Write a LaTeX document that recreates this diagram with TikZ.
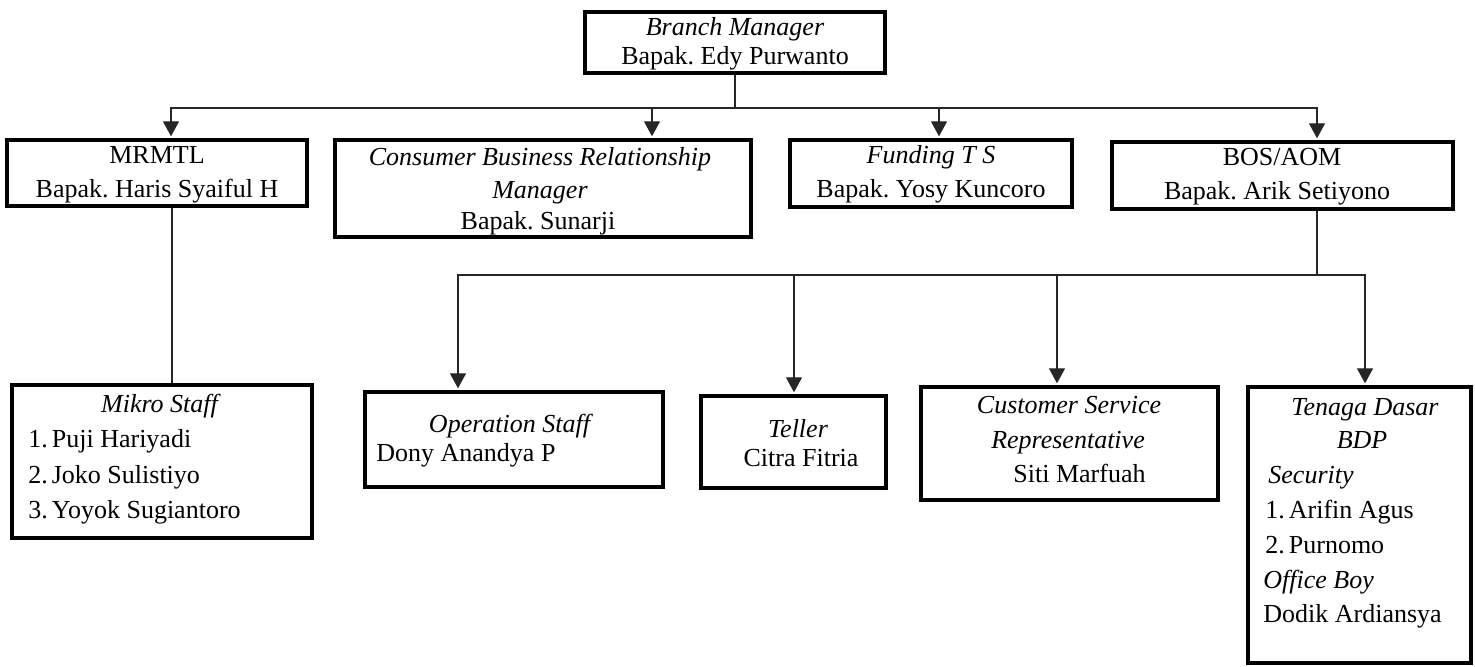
\documentclass[tikz,border=0pt]{standalone}
\usepackage{fontspec}
\setmainfont{Liberation Serif}
\usetikzlibrary{arrows.meta,fit}
\frenchspacing

\begin{document}
\begin{tikzpicture}[x=0.5pt,y=0.5pt,yscale=-1,xscale=1,
  orgbox/.style={draw,line width=1.9pt,inner sep=0pt,fit={#1}},
  txt/.style={anchor=base,inner sep=0pt,font=\fontsize{13}{16}\selectfont},
  txtl/.style={txt,anchor=base west},
  link/.style={line width=0.6pt,draw=black!85},
  arr/.style={link,-{Triangle[length=7.5pt,width=8pt]},shorten >=0.9pt}]
\useasboundingbox (0,0) rectangle (1475,666);

%Shape: Rectangle [Branch Manager]
\node [orgbox={(585,12) (885,73)}] (bm) {};
%Shape: Rectangle [MRMTL]
\node [orgbox={(7,140) (307,206)}] (mrmtl) {};
%Shape: Rectangle [Consumer Business Relationship Manager]
\node [orgbox={(335,140) (751,237)}] (cbrm) {};
%Shape: Rectangle [Funding T S]
\node [orgbox={(790,140) (1072,207)}] (fund) {};
%Shape: Rectangle [BOS/AOM]
\node [orgbox={(1112,142) (1453,209)}] (bos) {};
%Shape: Rectangle [Mikro Staff]
\node [orgbox={(12,385) (312,538)}] (mikro) {};
%Shape: Rectangle [Operation Staff]
\node [orgbox={(365,392) (663,487)}] (opr) {};
%Shape: Rectangle [Teller]
\node [orgbox={(701,396) (886,488)}] (teller) {};
%Shape: Rectangle [Customer Service Representative]
\node [orgbox={(921,387) (1218,500)}] (csr) {};
%Shape: Rectangle [Tenaga Dasar]
\node [orgbox={(1248,387) (1471,663)}] (tenaga) {};

% where the lines meet the boxes
\coordinate (topbus) at (735,108);
\coordinate (lowbus) at (1317,275);
\coordinate (mrmtlpin) at (171,0);
\coordinate (cbrmpin) at (652,0);
\coordinate (fundpin) at (939,0);
\coordinate (bospin) at (1317,0);
\coordinate (mikropin) at (172,0);
\coordinate (oprpin) at (458,0);
\coordinate (tellerpin) at (794,0);
\coordinate (csrpin) at (1057,0);
\coordinate (tenagapin) at (1365,0);

%Straight Lines
\draw [link] (bm.south) -- (topbus);
\draw [arr] (topbus) -| (mrmtl.north -| mrmtlpin);
\draw [arr] (topbus) -| (cbrm.north -| cbrmpin);
\draw [arr] (topbus) -| (fund.north -| fundpin);
\draw [arr] (topbus) -| (bos.north -| bospin);
\draw [link] (mrmtl.south -| mikropin) -- (mikro.north -| mikropin);
\draw [link] (bos.south -| bospin) -- (lowbus);
\draw [arr] (lowbus) -| (opr.north -| oprpin);
\draw [arr] (lowbus) -| (teller.north -| tellerpin);
\draw [arr] (lowbus) -| (csr.north -| csrpin);
\draw [arr] (lowbus) -| (tenaga.north -| tenagapin);

% Text Node
\node [txt] (bmt1) at (735,35) {\textit{Branch Manager}};
\node [txt] (bmt2) at (735,64) {Bapak. Edy Purwanto};
% Text Node
\node [txt] (mrmtlt1) at (157,163) {MRMTL};
\node [txt] (mrmtlt2) at (157,197) {Bapak. Haris Syaiful H};
% Text Node
\node [txt] (cbrmt1) at (540,165) {\textit{Consumer Business Relationship}};
\node [txt] (cbrmt2) at (540,198) {\textit{Manager}};
\node [txt] (cbrmt3) at (538,229) {Bapak. Sunarji};
% Text Node
\node [txt] (fundt1) at (931,163) {\textit{Funding T S}};
\node [txt] (fundt2) at (931,197) {Bapak. Yosy Kuncoro};
% Text Node
\node [txt] (bost1) at (1282,165) {BOS/AOM};
\node [txt] (bost2) at (1277,199) {Bapak. Arik Setiyono};
% Text Node
\node [txt] (mikrot1) at (161,412) {\textit{Mikro Staff}};
\node [txtl] (mikrot2) at (28,447) {1.\hspace{2pt}Puji Hariyadi};
\node [txtl] (mikrot3) at (28,483) {2.\hspace{2pt}Joko Sulistiyo};
\node [txtl] (mikrot4) at (28,518) {3.\hspace{2pt}Yoyok Sugiantoro};
% Text Node
\node [txt] (oprt1) at (511,432) {\textit{Operation Staff}};
\node [txtl] (oprt2) at (376,461) {Dony Anandya P};
% Text Node
\node [txt] (tellert1) at (798,437) {\textit{Teller}};
\node [txt] (tellert2) at (801,466) {Citra Fitria};
% Text Node
\node [txt] (csrt1) at (1069,413) {\textit{Customer Service}};
\node [txt] (csrt2) at (1068,448) {\textit{Representative}};
\node [txtl] (csrt3) at (1013,482) {Siti Marfuah};
% Text Node
\node [txt] (tenagat1) at (1365,415) {\textit{Tenaga Dasar}};
\node [txt] (tenagat2) at (1362,448) {\textit{BDP}};
\node [txtl] (tenagat3) at (1268,483) {\textit{Security}};
\node [txtl] (tenagat4) at (1265,518) {1.\hspace{2pt}Arifin Agus};
\node [txtl] (tenagat5) at (1265,553) {2.\hspace{2pt}Purnomo};
\node [txtl] (tenagat6) at (1263,588) {\textit{Office Boy}};
\node [txtl] (tenagat7) at (1263,622) {Dodik Ardiansya};
\end{tikzpicture}
\end{document}
